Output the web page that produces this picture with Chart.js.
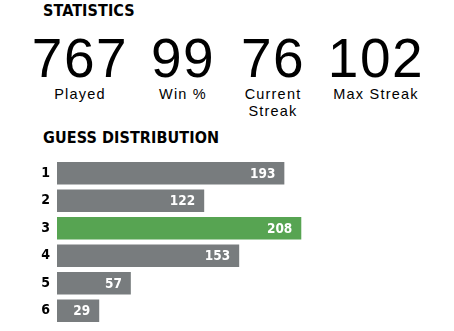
<!DOCTYPE html>
<html>
<head>
<meta charset="utf-8">
<script src="https://cdn.jsdelivr.net/npm/chart.js@4/dist/chart.umd.min.js"></script>
<style>
  body { margin: 0; background: #fff; width: 454px; height: 331px; overflow: hidden; position: relative; font-family: "Liberation Sans", Arial, sans-serif; }
  .head { position: absolute; left: 43px; font: bold 16px "Liberation Sans Narrow", "DejaVu Sans Condensed", sans-serif; color: #000; letter-spacing: 0.1px; }
  .stat { position: absolute; top: 28px; width: 130px; margin-left: -65px; text-align: center; color: #000; }
  .stat .num { font-size: 55px; line-height: 60px; letter-spacing: 1.5px; font-family: "Liberation Sans", Arial, sans-serif; }
  .stat .lbl { font-size: 14.5px; line-height: 17px; letter-spacing: 1.2px; margin-top: -2px; }
  #wrap { position: absolute; left: 0; top: 150px; width: 454px; height: 180px; }
</style>
</head>
<body>
<div class="head" style="top:1px">STATISTICS</div>
<div id="stats"></div>
<div class="head" style="top:128px">GUESS DISTRIBUTION</div>
<div id="wrap"><canvas id="chart"></canvas></div>
<script>
var statValues = ["767", "99", "76", "102"];
var statLabels = ["Played", "Win %", "Current<br>Streak", "Max Streak"];
var statCenters = [80, 183, 273, 376];

var guesses = ["1", "2", "3", "4", "5", "6"];
var counts = [193, 122, 208, 153, 57, 29];
var highlight = 2;

var box = document.getElementById("stats");
for (var i = 0; i < statValues.length; i++) {
	var d = document.createElement("div");
	d.className = "stat";
	d.style.left = statCenters[i] + "px";
	d.innerHTML = '<div class="num">' + statValues[i] + '</div><div class="lbl">' + statLabels[i] + '</div>';
	box.appendChild(d);
}

var colors = [];
for (var i = 0; i < counts.length; i++) {
	colors.push(i == highlight ? "#57a452" : "#787c7e");
}

var barLabels = {
	id: "barLabels",
	afterDatasetsDraw: function(chart) {
		var ctx = chart.ctx;
		var meta = chart.getDatasetMeta(0);
		ctx.save();
		ctx.fillStyle = "#fff";
		ctx.font = 'bold 13.5px "Liberation Sans Narrow", "DejaVu Sans Condensed", sans-serif';
		ctx.textAlign = "right";
		ctx.textBaseline = "middle";
		meta.data.forEach(function(bar, i) {
			ctx.fillText(counts[i], bar.x - 9, bar.y + 1);
		});
		ctx.restore();
	}
};

new Chart(document.getElementById("chart"), {
	type: "bar",
	data: {
		labels: guesses,
		datasets: [{
			data: counts,
			backgroundColor: colors,
			base: -8.4,
			categoryPercentage: 1,
			barPercentage: 0.82
		}]
	},
	options: {
		indexAxis: "y",
		responsive: true,
		maintainAspectRatio: false,
		animation: false,
		layout: { padding: { top: 9.5, bottom: 5.5, right: 15, left: 0 } },
		plugins: { legend: { display: false }, tooltip: { enabled: false } },
		scales: {
			x: { display: false, min: -8.4, max: 330 },
			y: {
				grid: { display: false, drawTicks: false },
				border: { display: false },
				ticks: {
					color: "#000",
					padding: 7,
					font: { family: '"Liberation Sans Narrow", "DejaVu Sans Condensed", sans-serif', weight: "bold", size: 14 }
				},
				afterFit: function(axis) {
					axis.width = 57;
					axis.paddingTop = 0;
					axis.paddingBottom = 0;
				}
			}
		}
	},
	plugins: [barLabels]
});
</script>
</body>
</html>
